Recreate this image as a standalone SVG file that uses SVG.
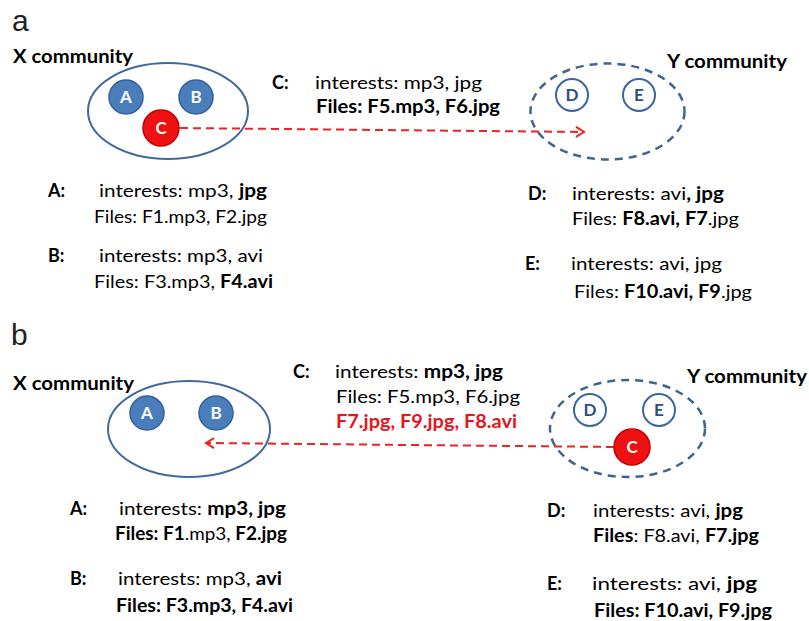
<svg xmlns="http://www.w3.org/2000/svg" width="809" height="621" viewBox="0 0 809 621">
  <style>
    .panel { font-family: "Liberation Sans", Arial, sans-serif; font-size: 30px; fill: #222; }
    .comm { font-family: Lato, "Liberation Sans", sans-serif; font-size: 18px; font-weight: 700; fill: #000; }
    .t { font-family: Lato, "Liberation Sans", sans-serif; font-size: 18px; fill: #000; }
    .lbl { font-family: Lato, "Liberation Sans", sans-serif; font-size: 18px; font-weight: 700; fill: #000; }
    .b { font-weight: 700; }
    .red { fill: #e8141c; font-weight: 700; }
    .xcomm { fill: none; stroke: #41699e; stroke-width: 2; }
    .ycomm { fill: none; stroke: #41648f; stroke-width: 2.5; stroke-dasharray: 8 6; }
    .peer { fill: #4a7ebb; stroke: #36609a; stroke-width: 1.5; }
    .peer-out { fill: #fff; stroke: #3b66a0; stroke-width: 2; }
    .mover { fill: #ee1111; stroke: #c40000; stroke-width: 1.5; }
    .nl { font-family: Lato, "Liberation Sans", sans-serif; font-size: 17px; font-weight: 700; text-anchor: middle; }
    .nl-w { fill: #fff; }
    .nl-b { fill: #2b4f80; }
    .move { fill: none; stroke: #ee2222; stroke-width: 2; stroke-dasharray: 8 5; }
  </style>
  <defs>
    <marker id="chev" viewBox="0 0 12 12" refX="10" refY="6" markerWidth="12" markerHeight="12" markerUnits="userSpaceOnUse" orient="auto">
      <path d="M2,1 L10,6 L2,11" fill="none" stroke="#ee2222" stroke-width="2"/>
    </marker>
  </defs>

  <!-- ===== Panel a ===== -->
  <text class="panel" x="12" y="31">a</text>
  <text class="comm" x="13" y="63" textLength="120" lengthAdjust="spacingAndGlyphs">X community</text>
  <text class="comm" x="667" y="68" textLength="120" lengthAdjust="spacingAndGlyphs">Y community</text>

  <g id="a-x-community">
    <ellipse class="xcomm" cx="168" cy="111" rx="80" ry="48"/>
  </g>
  <g id="a-y-community">
    <ellipse class="ycomm" cx="607.5" cy="111.5" rx="77" ry="48"/>
  </g>

  <g id="a-connectors">
    <line class="move" x1="180" y1="128" x2="584" y2="132" marker-end="url(#chev)"/>
  </g>

  <g id="a-node-A">
    <circle class="peer" cx="126" cy="97" r="17"/>
    <text class="nl nl-w" x="126" y="103">A</text>
  </g>
  <g id="a-node-B">
    <circle class="peer" cx="196" cy="97" r="17"/>
    <text class="nl nl-w" x="196" y="103">B</text>
  </g>
  <g id="a-node-C">
    <circle class="mover" cx="161" cy="128" r="18"/>
    <text class="nl nl-w" x="161" y="134">C</text>
  </g>
  <g id="a-node-D">
    <circle class="peer-out" cx="572" cy="95" r="16"/>
    <text class="nl nl-b" x="572" y="101">D</text>
  </g>
  <g id="a-node-E">
    <circle class="peer-out" cx="639" cy="95" r="16"/>
    <text class="nl nl-b" x="639" y="101">E</text>
  </g>

  <!-- peer profiles, panel a -->
  <g id="a-info-C">
    <text class="lbl" x="272" y="89">C:</text>
    <text class="t" x="315" y="89" textLength="167" lengthAdjust="spacingAndGlyphs">interests: mp3, jpg</text>
    <text class="t b" x="316" y="113" textLength="184" lengthAdjust="spacingAndGlyphs">Files: F5.mp3, F6.jpg</text>
  </g>
  <g id="a-info-A">
    <text class="lbl" x="48" y="197">A:</text>
    <text class="t" x="99" y="197" textLength="168" lengthAdjust="spacingAndGlyphs">interests: mp3, <tspan class="b">jpg</tspan></text>
    <text class="t" x="94" y="223" textLength="173" lengthAdjust="spacingAndGlyphs">Files: F1.mp3, F2.jpg</text>
  </g>
  <g id="a-info-B">
    <text class="lbl" x="48" y="262">B:</text>
    <text class="t" x="99" y="262" textLength="164" lengthAdjust="spacingAndGlyphs">interests: mp3, avi</text>
    <text class="t" x="94" y="288" textLength="179" lengthAdjust="spacingAndGlyphs">Files: F3.mp3, <tspan class="b">F4.avi</tspan></text>
  </g>
  <g id="a-info-D">
    <text class="lbl" x="528" y="200">D:</text>
    <text class="t" x="572" y="200" textLength="152" lengthAdjust="spacingAndGlyphs">interests: avi<tspan class="b">, jpg</tspan></text>
    <text class="t" x="572" y="225" textLength="167" lengthAdjust="spacingAndGlyphs">Files: <tspan class="b">F8.avi, F7</tspan>.jpg</text>
  </g>
  <g id="a-info-E">
    <text class="lbl" x="525" y="270">E:</text>
    <text class="t" x="571" y="270" textLength="151" lengthAdjust="spacingAndGlyphs">interests: avi, jpg</text>
    <text class="t" x="574" y="298" textLength="178" lengthAdjust="spacingAndGlyphs">Files: <tspan class="b">F10.avi, F9</tspan>.jpg</text>
  </g>

  <!-- ===== Panel b ===== -->
  <text class="panel" x="11" y="345">b</text>
  <text class="comm" x="13" y="390" textLength="121" lengthAdjust="spacingAndGlyphs">X community</text>
  <text class="comm" x="687" y="383" textLength="120" lengthAdjust="spacingAndGlyphs">Y community</text>

  <g id="b-x-community">
    <ellipse class="xcomm" cx="189" cy="429" rx="81" ry="48"/>
  </g>
  <g id="b-y-community">
    <ellipse class="ycomm" cx="627.5" cy="428.5" rx="77.5" ry="48.5"/>
  </g>

  <g id="b-connectors">
    <line class="move" x1="614" y1="447" x2="206" y2="443" marker-end="url(#chev)"/>
  </g>

  <g id="b-node-A">
    <circle class="peer" cx="147" cy="413" r="17"/>
    <text class="nl nl-w" x="147" y="419">A</text>
  </g>
  <g id="b-node-B">
    <circle class="peer" cx="216" cy="413" r="17"/>
    <text class="nl nl-w" x="216" y="419">B</text>
  </g>
  <g id="b-node-D">
    <circle class="peer-out" cx="590" cy="410" r="16"/>
    <text class="nl nl-b" x="590" y="416">D</text>
  </g>
  <g id="b-node-E">
    <circle class="peer-out" cx="659" cy="410" r="16"/>
    <text class="nl nl-b" x="659" y="416">E</text>
  </g>
  <g id="b-node-C">
    <circle class="mover" cx="632" cy="447" r="18"/>
    <text class="nl nl-w" x="632" y="453">C</text>
  </g>

  <!-- peer profiles, panel b -->
  <g id="b-info-C">
    <text class="lbl" x="293" y="378">C:</text>
    <text class="t" x="335" y="378" textLength="168" lengthAdjust="spacingAndGlyphs">interests: <tspan class="b">mp3, jpg</tspan></text>
    <text class="t" x="336" y="403" textLength="184" lengthAdjust="spacingAndGlyphs">Files: F5.mp3, F6.jpg</text>
    <text class="t red" x="336" y="428" textLength="181" lengthAdjust="spacingAndGlyphs">F7.jpg, F9.jpg, F8.avi</text>
  </g>
  <g id="b-info-A">
    <text class="lbl" x="70" y="515">A:</text>
    <text class="t" x="119" y="515" textLength="167" lengthAdjust="spacingAndGlyphs">interests: <tspan class="b">mp3, jpg</tspan></text>
    <text class="t" x="115" y="540" textLength="172" lengthAdjust="spacingAndGlyphs"><tspan class="b">Files: F1</tspan>.mp3, <tspan class="b">F2.jpg</tspan></text>
  </g>
  <g id="b-info-B">
    <text class="lbl" x="70" y="585">B:</text>
    <text class="t" x="118" y="585" textLength="164" lengthAdjust="spacingAndGlyphs">interests: mp3, <tspan class="b">avi</tspan></text>
    <text class="t b" x="116" y="612" textLength="177" lengthAdjust="spacingAndGlyphs">Files: F3.mp3, F4.avi</text>
  </g>
  <g id="b-info-D">
    <text class="lbl" x="547" y="517">D:</text>
    <text class="t" x="593" y="517" textLength="150" lengthAdjust="spacingAndGlyphs">interests: avi, <tspan class="b">jpg</tspan></text>
    <text class="t" x="593" y="542" textLength="166" lengthAdjust="spacingAndGlyphs"><tspan class="b">Files</tspan>: F8.avi, <tspan class="b">F7.jpg</tspan></text>
  </g>
  <g id="b-info-E">
    <text class="lbl" x="547" y="590">E:</text>
    <text class="t" x="592" y="590" textLength="165" lengthAdjust="spacingAndGlyphs">interests: avi, <tspan class="b">jpg</tspan></text>
    <text class="t b" x="594" y="617" textLength="178" lengthAdjust="spacingAndGlyphs">Files: F10.avi, F9.jpg</text>
  </g>
</svg>
